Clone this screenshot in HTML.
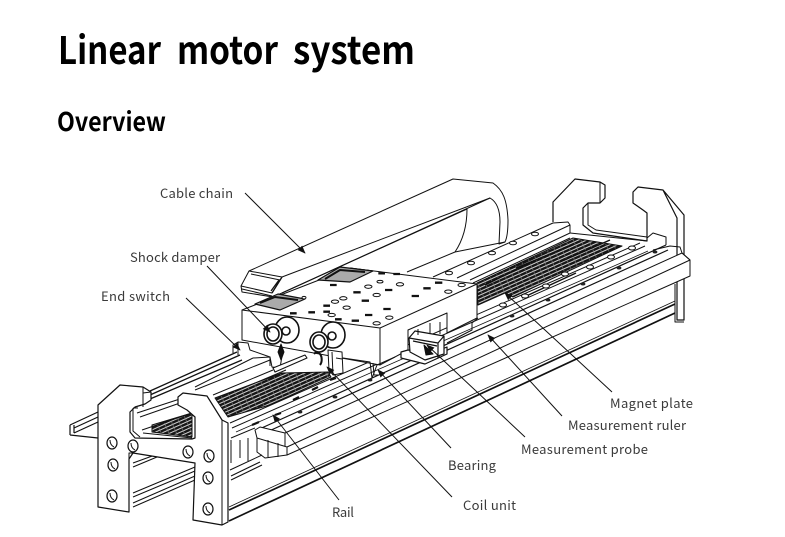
<!DOCTYPE html>
<html>
<head>
<meta charset="utf-8">
<style>
html,body{margin:0;padding:0;background:#fff;width:785px;height:537px;overflow:hidden}
svg{position:absolute;left:0;top:0}
text{font-family:"Noto Sans CJK KR","Liberation Sans",sans-serif}
.l{font-size:13px;fill:#3a3a3a}
.h{font-weight:700;fill:#000}
</style>
</head>
<body>
<svg width="785" height="537" viewBox="0 0 785 537">
<defs>
<pattern id="mag" width="7" height="3.4" patternUnits="userSpaceOnUse" patternTransform="rotate(-24)">
<rect width="7" height="3.4" fill="#151515"/>
<rect y="1.9" width="7" height=".9" fill="#e8e8e8"/>
<rect x="5.8" width=".6" height="3.4" fill="#888"/>
</pattern>
<marker id="a" viewBox="0 0 10 10" refX="9" refY="5" markerWidth="9" markerHeight="8" orient="auto" markerUnits="userSpaceOnUse"><path d="M0 1L10 5L0 9Z" fill="#111"/></marker>
</defs>

<text class="h" x="58" y="64" font-size="38" textLength="103" lengthAdjust="spacingAndGlyphs">Linear</text>
<text class="h" x="177" y="64" font-size="38" textLength="101" lengthAdjust="spacingAndGlyphs">motor</text>
<text class="h" x="293" y="64" font-size="38" textLength="122" lengthAdjust="spacingAndGlyphs">system</text>
<text class="h" x="57" y="131" font-size="26" textLength="109" lengthAdjust="spacingAndGlyphs">Overview</text>

<g fill="none" stroke="#111" stroke-width="1" stroke-linejoin="round">
<!-- far right end plates -->
<path d="M553 222V202L575 179L600 182L605 185V198L600 203H588L583 208V225L593 233L647 241V213L643 210L633 203V192L638 187L663 190L684 215V320H677V218L663 190" stroke-width="1.2"/>
<path d="M588 203V225L596 230L647 237"/>
<path d="M600 182V203"/>
<path d="M570 233L647 241"/>

<!-- left tail and upper rear rails -->
<path d="M70 425L98 412M70 435L98 438M70 425V435M74 425V433M74 428L98 417M74 433L98 422" stroke-width="1.2"/>
<path d="M150 391L237 352M150 395L240 355M150 399L242 360" stroke-width="1.3"/>
<path d="M195 387L253 358M195 390L270 360M137 413L192 395M140 417L180 403"/>
<path d="M253 358L270 357V366"/>
<path d="M213 395L273 370M222 397L286 370"/>
<!-- far rear rail -->
<path d="M433 277L553 223L568 222L570 225L457 278M570 225V233L470 280M473 283L570 238"/>
<g fill="#fff">
<ellipse cx="535" cy="234" rx="3.5" ry="1.8"/><ellipse cx="513" cy="243" rx="3.5" ry="1.8"/><ellipse cx="492" cy="253" rx="3.5" ry="1.8"/><ellipse cx="471" cy="263" rx="3.5" ry="1.8"/><ellipse cx="449" cy="273" rx="3.5" ry="1.8"/>
</g>

<!-- magnets -->
<path d="M477 283L573 238L622 246L513 297L505 293L478 305Z" fill="url(#mag)"/>
<path d="M215 398L282 373L328 372L331 377L270 405L228 417Z" fill="url(#mag)"/>
<path d="M152 425L192 413V437L152 432Z" fill="url(#mag)"/>
<path d="M142 430L192 413M143 433L192 438"/>
<path d="M516 268L572 245M485 285L540 258M522 298L576 273M560 262L610 240" stroke="#111" stroke-width="1.4"/>

<!-- R0 rail -->
<path d="M230 423L640 243M232 428L645 246" stroke-width="1"/>
<path d="M236 432L648 251" stroke-width=".8"/>
<g fill="#fff">
<ellipse cx="503" cy="305" rx="3.5" ry="2"/><ellipse cx="525" cy="296" rx="3.5" ry="2"/><ellipse cx="546" cy="286" rx="3.5" ry="2"/><ellipse cx="565" cy="274" rx="3.5" ry="2"/><ellipse cx="590" cy="267" rx="3.5" ry="2"/><ellipse cx="611" cy="257" rx="3.5" ry="2"/><ellipse cx="632" cy="248" rx="3.5" ry="2"/>
</g>
<path d="M275 415l6-2M293 400l6-3M312 390l6-3M330 380l6-2M252 425l7-3" stroke-width="2.2"/>

<!-- R1 rail -->
<path d="M255 431L666 245" stroke-width="1.2"/>
<path d="M258 436L668 250" stroke-width="1.2"/>
<path d="M647 238L653 233L666 237V245M653 250L670 246L680 247L682 253" />
<g fill="#222" stroke="none">
<ellipse cx="512" cy="316" rx="2.4" ry="1.5"/><ellipse cx="548" cy="300" rx="2.4" ry="1.5"/><ellipse cx="583" cy="284" rx="2.4" ry="1.5"/><ellipse cx="619" cy="268" rx="2.4" ry="1.5"/><ellipse cx="655" cy="252" rx="2.4" ry="1.5"/><ellipse cx="262" cy="430" rx="2.4" ry="1.5"/><ellipse cx="300" cy="412" rx="2.4" ry="1.5"/><ellipse cx="335" cy="397" rx="2.4" ry="1.5"/><ellipse cx="370" cy="380" rx="2.4" ry="1.5"/>
</g>

<!-- base plate -->
<path d="M255 430L260 427L285 433L682 253L690 260V276L287 455V447L257 438Z" fill="#fff"/>
<path d="M287 447L690 260M285 433V446"/>
<path d="M682 253L690 260"/>
<path d="M257 438V452L265 458L287 455M268 440V457M278 443V457"/>
<path d="M231 438L255 428M231 463V440M240 458V440M248 461V438M230 470L262 455"/>
<path d="M231 476L260 462M231 480L262 465" stroke-width="1.1"/>
<path d="M675 284V322H684" />

<!-- frame bottom rails -->
<path d="M229 521L675 313" stroke-width="1.7"/>
<path d="M229 510L675 304" stroke-width="1.7"/>
<path d="M229 507L675 301" stroke-width=".8"/>
<path d="M133 493L195 467M133 497L195 471M133 503L195 476M133 507L195 480" stroke-width="1"/>
<path d="M133 463L155 455M133 467L157 457" stroke-width="1.1"/>

<!-- left end plates -->
<path d="M98 405L120 385L143 387L151 392V400L145 404L135 407L130 412V432L135 438L192 439L195 438V417L187 410L178 405V397L183 393L207 396L222 420L228 423V522L222 525L193 520L195 463L133 453L129 459V512L98 507Z" fill="#fff" stroke-width="1.2"/>
<path d="M222 420V525M143 387V407M151 392L143 393"/>
<path d="M133 408V431L140 437"/>
<path d="M129 459V453L133 453"/>
<path d="M133 408H138"/>
<g fill="#fff" stroke-width="1.2">
<ellipse cx="112" cy="443" rx="5" ry="6"/><ellipse cx="113" cy="465" rx="5" ry="6"/><ellipse cx="112" cy="496" rx="5" ry="6"/>
<ellipse cx="133" cy="446" rx="5" ry="6"/><ellipse cx="188" cy="452" rx="5" ry="6"/>
<ellipse cx="209" cy="456" rx="5" ry="6"/><ellipse cx="208" cy="478" rx="5" ry="6"/><ellipse cx="208" cy="509" rx="5" ry="6"/>
</g>
<path d="M110 440q0 5 4 7M111 462q0 5 4 7M110 493q0 5 4 7M131 443q0 5 4 7M186 449q0 5 4 7M207 453q0 5 4 7M206 475q0 5 4 7M206 506q0 5 4 7" stroke-width="1"/>

<!-- cable chain -->
<path d="M249 271L453 179L493 183C503 190 507 200 508 220C508 230 507 238 505 242L499 244L500 222C500 210 497 202 490 198L282 293L273 297L242 292L241 286Z" fill="#fff"/>
<path d="M249 271L282 277L272 293L241 286M282 277L490 198M251 274L280 280M242 289L272 296"/>
<path d="M467 209C467 225 463 240 455 252L407 272M282 293L467 209M505 242L455 252" />
<path d="M282 277L272 293M279 280L271 291" stroke-width="1.3"/>

<!-- block -->
<path d="M242 310L350 268L477 284V318L447 333V313L408 330V350L380 365L242 340Z" fill="#fff"/>
<path d="M242 310L380 328L477 284M380 328V365M242 310V340"/>
<path d="M350 268L373 271"/>
<path d="M255 304L278 294L305 299L280 310Z" fill="#aaa" stroke-width="1.2"/>
<path d="M318 280L340 267L373 271L350 282Z" fill="#aaa" stroke-width="1.2"/>
<path d="M260 303L275 297L298 300M325 279L340 270L365 272" stroke-width="2"/>
<path d="M447 343L472 330V323L478 318M373 363L374 375H378"/>
<g transform="translate(230 250) scale(.3333)" stroke-width="7" stroke="#111">
<path d="M300 105h20M370 127h22M235 187h20M280 167h20M280 185h20M315 208h20M365 212h22M405 195h22M460 177h22M395 152h22M465 120h22M580 115h22M615 98h22M545 138h22M445 70h20M490 72h20M180 190h20"/>
</g>
<g transform="translate(230 250) scale(.3333)" stroke-width="3" fill="#fff" stroke="#111">
<ellipse cx="415" cy="110" rx="11" ry="5"/><ellipse cx="510" cy="103" rx="11" ry="5"/><ellipse cx="440" cy="135" rx="11" ry="5"/><ellipse cx="655" cy="125" rx="11" ry="5"/><ellipse cx="695" cy="105" rx="11" ry="5"/><ellipse cx="305" cy="195" rx="11" ry="5"/><ellipse cx="478" cy="203" rx="11" ry="5"/><ellipse cx="440" cy="220" rx="11" ry="5"/><ellipse cx="350" cy="173" rx="11" ry="5"/><ellipse cx="315" cy="155" rx="11" ry="5"/><ellipse cx="340" cy="145" rx="11" ry="5"/><ellipse cx="222" cy="143" rx="6" ry="4"/><ellipse cx="450" cy="95" rx="9" ry="4"/>
</g>

<!-- carriage legs and shaft -->
<path d="M238 342L248 343L250 350L270 357L272 367L280 368L283 350"/>
<path d="M233 353V345L238 342V355" />
<path d="M273 368L305 355L307 358L275 372Z" fill="#fff" stroke-width="1.1"/>
<path d="M314 354A4 6 0 1 1 320 365" stroke-width="2"/>
<path d="M328 350L342 352L343 373L333 375L329 370Z" fill="#fff"/>
<path d="M332 352L333 375M336 358L342 359"/>
<path d="M343 358L370 362L372 378M372 378L377 365L395 357"/>

<!-- dampers -->
<g fill="#fff" stroke-width="1.6">
<ellipse cx="287" cy="330" rx="12" ry="13"/><circle cx="286" cy="331" r="4"/>
<ellipse cx="273" cy="334" rx="9" ry="10"/><ellipse cx="273" cy="334" rx="6" ry="7"/>
<ellipse cx="333" cy="335" rx="12" ry="13"/><circle cx="332" cy="336" r="4"/>
<ellipse cx="319" cy="342" rx="9" ry="10"/><ellipse cx="319" cy="342" rx="6" ry="7"/>
</g>
<path d="M281 344L284 352L281 360L278 352Z" fill="#111"/>

<!-- probe -->
<path d="M401 352L408 350L430 354L447 347V354L425 364L401 358Z" fill="#fff" stroke-width="1.2"/>
<path d="M409 338L415 331L444 336V354L425 360L410 352Z" fill="#fff" stroke-width="1.2"/>
<path d="M409 338L438 343L444 336M438 343V358M413 341L437 346" stroke-width="1.2"/>
<path d="M424 345L433 354L426 355Z" fill="#111"/>
<path d="M418 329V335M430 323V333M440 322V334"/>

<!-- leader lines -->
<g stroke-width="1" marker-end="url(#a)">
<path d="M245 193L305 253"/>
<path d="M207 266L270 332"/>
<path d="M186 298L240 350"/>
<path d="M612 392L505 293"/>
<path d="M562 416L488 335"/>
<path d="M525 437L427 345"/>
<path d="M451 448L378 370"/>
<path d="M452 497L327 367"/>
<path d="M339 500L273 415"/>
</g>
</g>

<text class="l" x="160" y="198" textLength="73">Cable chain</text>
<text class="l" x="130" y="262" textLength="90">Shock damper</text>
<text class="l" x="101" y="301" textLength="69">End switch</text>
<text class="l" x="610" y="408" textLength="83">Magnet plate</text>
<text class="l" x="568" y="430" textLength="118">Measurement ruler</text>
<text class="l" x="521" y="454" textLength="127">Measurement probe</text>
<text class="l" x="448" y="470" textLength="48">Bearing</text>
<text class="l" x="463" y="510" textLength="53">Coil unit</text>
<text class="l" x="332" y="517" textLength="22">Rail</text>
</svg>
</body>
</html>
